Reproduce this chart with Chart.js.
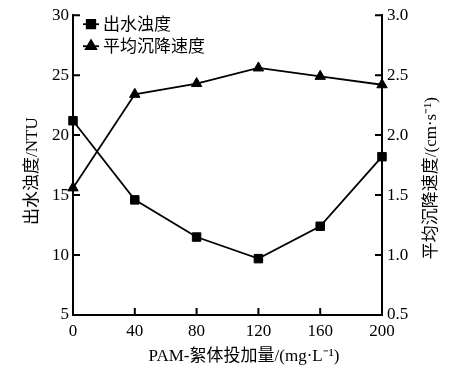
<!DOCTYPE html>
<html>
<head>
<meta charset="utf-8">
<script src="https://cdn.jsdelivr.net/npm/chart.js@4/dist/chart.umd.min.js"></script>
<style>
    html, body { margin: 0; padding: 0; background: #fff; }
    #grafico { display: block; }
</style>
</head>
<body>
<canvas id="grafico" width="474" height="378"></canvas>
<script>
const dosagem = [0, 40, 80, 120, 160, 200]
const turbidez = [21.2, 14.6, 11.5, 9.7, 12.4, 18.2]
const velocidade = [1.56, 2.34, 2.43, 2.56, 2.49, 2.42]

const nomesSeries = ['出水浊度', '平均沉降速度']
const tituloX = 'PAM-絮体投加量/(mg·L⁻¹)'
const tituloYEsq = '出水浊度/NTU'
const tituloYDir = '平均沉降速度/(cm·s⁻¹)'

const fonte = '"Liberation Serif", "Times New Roman", "Noto Sans CJK SC", serif'

// ticks para dentro, como no original
const ticksInternos = {
    id: 'ticksInternos',
    afterDraw(chart) {
        const ctx = chart.ctx
        const len = 7
        ctx.save()
        ctx.strokeStyle = '#000'
        ctx.lineWidth = 2
        ctx.beginPath()
        const sx = chart.scales.x
        sx.ticks.forEach(t => {
            const px = sx.getPixelForValue(t.value)
            ctx.moveTo(px, sx.top)
            ctx.lineTo(px, sx.top - len)
        })
        const sy = chart.scales.y
        sy.ticks.forEach(t => {
            const py = sy.getPixelForValue(t.value)
            ctx.moveTo(sy.right, py)
            ctx.lineTo(sy.right + len, py)
        })
        const sy2 = chart.scales.y2
        sy2.ticks.forEach(t => {
            const py = sy2.getPixelForValue(t.value)
            ctx.moveTo(sy2.left, py)
            ctx.lineTo(sy2.left - len, py)
        })
        ctx.stroke()
        ctx.restore()
    }
}

const titulosEixos = {
    id: 'titulosEixos',
    afterDraw(chart) {
        const ctx = chart.ctx
        const area = chart.chartArea
        ctx.save()
        ctx.fillStyle = '#000'
        ctx.font = '17px ' + fonte
        ctx.textAlign = 'center'
        ctx.textBaseline = 'middle'
        ctx.fillText(tituloX, 244, 357)

        ctx.translate(33, (area.top + area.bottom) / 2 + 6)
        ctx.rotate(-Math.PI / 2)
        ctx.fillText(tituloYEsq, 0, 0)
        ctx.restore()

        ctx.save()
        ctx.fillStyle = '#000'
        ctx.font = '17px ' + fonte
        ctx.textAlign = 'center'
        ctx.textBaseline = 'middle'
        ctx.translate(432, (area.top + area.bottom) / 2 + 13)
        ctx.rotate(-Math.PI / 2)
        ctx.fillText(tituloYDir, 0, 0)
        ctx.restore()
    }
}

const legendaInterna = {
    id: 'legendaInterna',
    afterDraw(chart) {
        const ctx = chart.ctx
        const area = chart.chartArea
        ctx.save()
        chart.data.datasets.forEach((ds, i) => {
            const y = area.top + 9 + i * 22
            const x0 = area.left + 10
            ctx.strokeStyle = '#000'
            ctx.lineWidth = 1.8
            ctx.beginPath()
            ctx.moveTo(x0, y)
            ctx.lineTo(x0 + 16, y)
            ctx.stroke()
            ctx.fillStyle = '#000'
            Chart.helpers.drawPoint(ctx, { pointStyle: ds.pointStyle, radius: 6, borderWidth: 1 }, x0 + 8, y)
            ctx.font = '17px ' + fonte
            ctx.textAlign = 'left'
            ctx.textBaseline = 'middle'
            ctx.fillText(ds.label, x0 + 20, y + 1)
        })
        ctx.restore()
    }
}

function criarGrafico() {
    const datasets = [
        {
            label: nomesSeries[0],
            data: dosagem.map((x, i) => ({ x: x, y: turbidez[i] })),
            yAxisID: 'y',
            pointStyle: 'rect',
        },
        {
            label: nomesSeries[1],
            data: dosagem.map((x, i) => ({ x: x, y: velocidade[i] })),
            yAxisID: 'y2',
            pointStyle: 'triangle',
        }
    ].map(d => Object.assign(d, {
        borderColor: '#000',
        backgroundColor: '#000',
        borderWidth: 1.8,
        pointRadius: 6,
        pointBorderWidth: 1,
        tension: 0,
        clip: false
    }))

    const eixoComum = {
        grid: { display: true, drawOnChartArea: false, drawTicks: false },
        border: { display: true, color: '#000', width: 2 },
    }

    new Chart(document.getElementById('grafico'), {
        type: 'line',
        data: { datasets: datasets },
        options: {
            responsive: false,
            animation: false,
            layout: { padding: { top: 15, left: 0, right: 0, bottom: 0 } },
            plugins: {
                legend: { display: false },
                tooltip: { enabled: false }
            },
            scales: {
                x: {
                    ...eixoComum,
                    type: 'linear',
                    min: 0,
                    max: 200,
                    ticks: { stepSize: 40, padding: 6, color: '#000', font: { family: fonte, size: 17 } },
                    afterFit: s => { s.height = 63 }
                },
                y: {
                    ...eixoComum,
                    position: 'left',
                    min: 5,
                    max: 30,
                    ticks: { stepSize: 5, padding: 4, color: '#000', font: { family: fonte, size: 17 } },
                    afterFit: s => { s.width = 73 }
                },
                y2: {
                    ...eixoComum,
                    position: 'right',
                    min: 0.5,
                    max: 3.0,
                    ticks: {
                        stepSize: 0.5, padding: 5, color: '#000', font: { family: fonte, size: 17 },
                        callback: v => v.toFixed(1)
                    },
                    afterFit: s => { s.width = 92 }
                }
            }
        },
        plugins: [ticksInternos, titulosEixos, legendaInterna]
    })
}

criarGrafico()
</script>
</body>
</html>
